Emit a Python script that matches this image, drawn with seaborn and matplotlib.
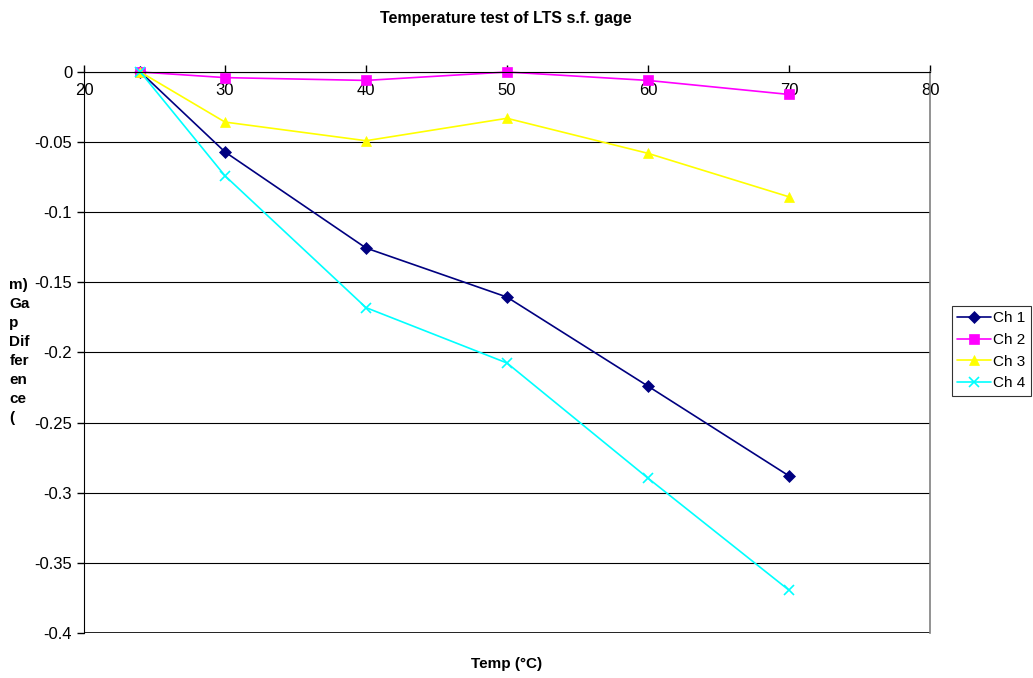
import matplotlib
matplotlib.use("Agg")
import matplotlib.pyplot as plt
import seaborn as sns
import pandas as pd

temps = [24, 30, 40, 50, 60, 70]
ch1 = [0, -0.057, -0.1255, -0.1605, -0.224, -0.288]
ch2 = [0, -0.004, -0.006, 0.0, -0.006, -0.016]
ch3 = [0, -0.0357, -0.049, -0.033, -0.058, -0.089]
ch4 = [0, -0.074, -0.168, -0.2075, -0.2896, -0.3695]
series_names = ["Ch 1", "Ch 2", "Ch 3", "Ch 4"]
colors = ["#000080", "#FF00FF", "#FFFF00", "#00FFFF"]
markers = ["D", "s", "^", "x"]

rows = []
for name, vals in zip(series_names, [ch1, ch2, ch3, ch4]):
    for t, v in zip(temps, vals):
        rows.append({"Temp": t, "Gap": v, "Channel": name})
df = pd.DataFrame(rows)

sns.set_style("white")
plt.rcParams["font.family"] = ["Liberation Sans", "DejaVu Sans"]
plt.rcParams["text.color"] = "black"
plt.rcParams["xtick.color"] = "black"
plt.rcParams["ytick.color"] = "black"

fig = plt.figure(figsize=(10.33, 6.78), dpi=100)
ax = fig.add_axes([0.0813, 0.0664, 0.8190, 0.8274])

for name, col, mk in zip(series_names, colors, markers):
    sub = df[df["Channel"] == name]
    sns.lineplot(data=sub, x="Temp", y="Gap", ax=ax, color=col, marker=mk,
                 markersize=6.5 if mk != "x" else 7, linewidth=1.2, label=name,
                 markeredgecolor=col, markeredgewidth=1.2 if mk == "x" else 0.5,
                 clip_on=False)

ax.set_xlim(20, 80)
ax.set_ylim(-0.4, 0)
ax.set_xticks([20, 30, 40, 50, 60, 70, 80])
ax.set_yticks([0, -0.05, -0.1, -0.15, -0.2, -0.25, -0.3, -0.35, -0.4])
ax.set_yticklabels(["0", "-0.05", "-0.1", "-0.15", "-0.2", "-0.25", "-0.3", "-0.35", "-0.4"])
ax.yaxis.grid(True, color="black", linewidth=0.8)
ax.set_axisbelow(True)
ax.axhline(-0.4, color="black", linewidth=1.2, zorder=0.5)

ax.spines["bottom"].set_position(("data", 0))
ax.spines["bottom"].set_color("black")
ax.spines["left"].set_color("black")
ax.spines["top"].set_visible(False)
ax.spines["right"].set_color("#808080")
ax.spines["right"].set_linewidth(1.2)
ax.tick_params(axis="x", direction="in", length=5, width=1, color="black",
               labelsize=12, pad=8, bottom=True, labelcolor="black")
ax.tick_params(axis="y", direction="out", length=5, width=1, color="black",
               labelsize=12, left=True, labelcolor="black")

ax.set_xlabel("")
ax.set_ylabel("")
fig.text(0.49, 0.02, "Temp (°C)", ha="center", va="center", fontsize=11, fontweight="bold")
fig.text(0.49, 0.973, "Temperature test of LTS s.f. gage", ha="center", va="center",
         fontsize=11.5, fontweight="bold")
fig.text(0.009, 1 - 297 / 678, "Ga\np\nDif\nfer\nen\nce\n(", ha="left", va="top",
         fontsize=11, fontweight="bold", linespacing=1.45)
fig.text(0.009, 1 - 285 / 678, "m)", ha="left", va="center", fontsize=11, fontweight="bold")

handles, labels = ax.get_legend_handles_labels()
if ax.legend_:
    ax.legend_.remove()
leg = fig.legend(handles, labels, loc="upper left", bbox_to_anchor=(952 / 1033, 1 - 306 / 678),
                 frameon=True, fancybox=False, edgecolor="black", fontsize=11,
                 handlelength=2.2, borderpad=0.35, labelspacing=0.5, handletextpad=0.15,
                 borderaxespad=0)
leg.get_frame().set_linewidth(0.8)

fig.savefig("out.png", dpi=100)
